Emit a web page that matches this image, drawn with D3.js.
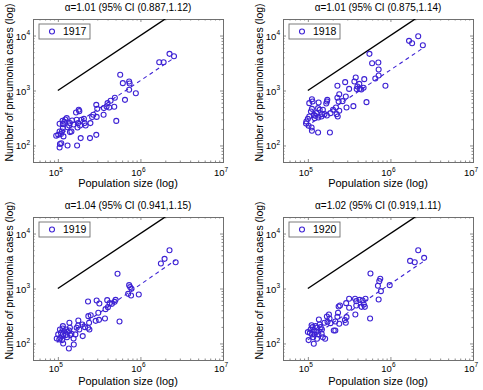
<!DOCTYPE html>
<html><head><meta charset="utf-8">
<script src="https://cdn.jsdelivr.net/npm/d3@7"></script>
<style>
body{margin:0;background:#fff;}
text{font-family:"Liberation Sans",Arial,Helvetica,sans-serif;fill:#000;}
</style></head>
<body><svg id="chart" width="483" height="390"></svg>
<script>
// ---------- data ----------
const years = ["1917","1918","1919","1920"];
const titles = ["α=1.01 (95% CI (0.887,1.12)","α=1.01 (95% CI (0.875,1.14)","α=1.04 (95% CI (0.941,1.15)","α=1.02 (95% CI (0.919,1.11)"];
const fitAlpha = [1.01, 1.01, 1.04, 1.02];
const fitAt100k = [148, 231, 108, 116];   // fitted cases at population 1e5
const refLineX = [1e5, 2e6];
const refLineY = [1e3, 2e4];
const xTicks = [1e5, 1e6, 1e7];
const yTicks = [1e2, 1e3, 1e4];
const xTickExp = ["5","6","7"];
const yTickExp = ["2","3","4"];

// [population, pneumonia cases]
const pts1917 = [[2.25e6,4640],[2.55e6,4210],[1.69e6,3270],[1.91e6,3270],[5.69e5,1930],[6.12e5,1360],[7.3e5,1460],[7.4e5,1340],[7.3e5,1030],[8.8e5,890],[6.5e5,676],[4.9e5,736],[5.1e5,280],[4.35e5,649],[4.0e5,590],[3.89e5,512],[4.19e5,490],[4.82e5,505],[3.61e5,478],[3.58e5,361],[2.92e5,548],[3.0e5,464],[2.69e5,361],[2.95e5,331],[2.92e5,156],[1.89e5,136],[2.45e5,136],[1.79e5,445],[1.82e5,421],[1.69e5,293],[1.76e5,255],[1.86e5,231],[1.73e5,212],[2.07e5,305],[2.48e5,255],[2.11e5,255],[1.66e5,398],[1.28e5,314],[1.49e5,285],[1.23e5,297],[1.14e5,281],[1.05e5,248],[1.15e5,244],[1.40e5,255],[1.37e5,231],[1.56e5,241],[1.46e5,180],[1.40e5,175],[1.15e5,207],[1.12e5,180],[1.09e5,161],[1.17e5,146],[9.55e4,150],[1.01e5,156],[1.06e5,106],[1.10e5,110],[1.05e5,92],[1.31e5,100],[1.71e5,100],[1.05e5,180],[1.31e5,215],[1.93e5,293],[2.17e5,231],[1.2e5,270],[2.6e5,330]];
const pts1918 = [[2.17e6,9720],[1.68e6,8000],[1.83e6,7260],[2.47e6,6670],[5.57e5,4640],[6.0e5,3140],[7.14e5,3230],[7.2e5,2410],[7.2e5,1870],[6.56e5,1650],[8.7e5,1220],[5.13e5,614],[4.73e5,1120],[3.8e5,1720],[3.66e5,1460],[4.2e5,1320],[3.98e5,1180],[4.24e5,1070],[4.44e5,1040],[3.9e5,1060],[4.82e5,1610],[2.83e5,1420],[3.16e5,1070],[2.88e5,778],[2.63e5,640],[2.94e5,491],[3.56e5,519],[2.28e5,1220],[2.4e5,857],[2.28e5,736],[2.36e5,631],[2.19e5,491],[2.23e5,371],[2.3e5,337],[2.4e5,427],[1.7e5,631],[1.72e5,676],[1.67e5,581],[2.02e5,445],[1.88e5,387],[1.52e5,445],[1.59e5,371],[1.39e5,445],[1.46e5,337],[1.35e5,605],[1.33e5,477],[1.27e5,387],[1.18e5,361],[1.12e5,695],[1.14e5,631],[1.04e5,589],[1.12e5,464],[1.09e5,415],[1.04e5,337],[1.0e5,305],[9.5e4,251],[1.02e5,228],[1.11e5,212],[1.12e5,185],[1.33e5,172],[1.85e5,172],[1.21e5,314],[1.34e5,323],[1.7e5,351],[9.6e4,273],[1.48e5,371],[1.23e5,346]];
const pts1919 = [[2.25e6,4980],[1.96e6,3460],[1.77e6,2850],[2.67e6,3010],[5.28e5,1850],[7.3e5,1150],[7.5e5,1060],[7.8e5,985],[7.1e5,800],[7.7e5,746],[9.55e5,778],[5.58e5,251],[5.0e5,622],[4.87e5,572],[4.52e5,526],[4.24e5,541],[3.96e5,614],[4.04e5,458],[3.78e5,421],[3.72e5,285],[2.95e5,605],[3.18e5,533],[2.32e5,581],[3.09e5,361],[3.15e5,269],[2.87e5,258],[2.5e5,327],[2.34e5,314],[2.39e5,238],[2.32e5,193],[2.41e5,180],[1.98e5,221],[2.13e5,198],[1.77e5,262],[1.76e5,212],[1.82e5,180],[1.69e5,193],[2.0e5,136],[1.55e5,123],[1.56e5,96],[1.36e5,81],[1.38e5,238],[1.40e5,193],[1.37e5,172],[1.31e5,163],[1.26e5,180],[1.15e5,207],[1.14e5,187],[1.19e5,167],[1.09e5,156],[1.15e5,146],[1.06e5,180],[1.01e5,146],[9.7e4,123],[1.07e5,127],[1.13e5,115],[1.16e5,100],[1.04e5,118],[1.46e5,150],[1.41e5,142],[1.63e5,146],[1.25e5,142],[1.29e5,130]];
const pts1920 = [[2.17e6,4980],[1.73e6,3180],[1.97e6,3010],[2.56e6,3610],[5.73e5,1870],[7.53e5,1500],[7.33e5,1360],[7.06e5,1120],[9.8e5,1150],[7.67e5,895],[7.2e5,631],[5.67e5,285],[4.99e5,649],[4.6e5,605],[4.24e5,622],[3.73e5,649],[3.86e5,589],[3.16e5,649],[2.91e5,541],[3.16e5,445],[4.77e5,512],[4.9e5,464],[3.86e5,491],[4.47e5,464],[3.76e5,337],[2.94e5,301],[2.88e5,238],[2.81e5,266],[2.36e5,471],[2.45e5,491],[2.32e5,361],[2.28e5,305],[2.15e5,251],[2.4e5,228],[2.15e5,172],[2.06e5,172],[1.8e5,337],[1.7e5,310],[1.83e5,285],[1.73e5,248],[1.88e5,234],[1.59e5,238],[1.36e5,273],[1.39e5,221],[1.43e5,198],[1.24e5,207],[1.29e5,193],[1.11e5,215],[1.14e5,198],[1.08e5,180],[1.18e5,172],[1.06e5,156],[1.0e5,161],[1.12e5,146],[1.16e5,130],[1.02e5,115],[1.18e5,99],[1.29e5,122],[1.47e5,150],[1.52e5,130],[1.62e5,122],[1.34e5,146],[1.48e5,180],[1.27e5,163],[1.21e5,146]];
const allPts = [pts1917, pts1918, pts1919, pts1920];

// ---------- layout ----------
const svg = d3.select("#chart");
const panelLeft = [33, 283, 33, 283];
const panelTop = [19, 19, 217, 217];
const W = 190, H = 143;
const blue = "#3d22d4";
const axisGray = "#6e6e6e";

function minorTicks(lo, hi) {
  const out = [];
  for (let e = Math.floor(Math.log10(lo)); e <= Math.ceil(Math.log10(hi)); e++) {
    for (let m = 2; m <= 9; m++) {
      const v = m * Math.pow(10, e);
      if (v > lo && v < hi) out.push(v);
    }
  }
  return out;
}

allPts.forEach((pts, i) => {
  const g = svg.append("g").attr("transform", `translate(${panelLeft[i]},${panelTop[i]})`);
  const x = d3.scaleLog().domain([5e4, 1e7]).range([0, W]);
  const y = d3.scaleLog().domain([50, 2e4]).range([H, 0]);

  g.append("rect").attr("width", W).attr("height", H).attr("fill", "#fff");

  const clipId = "clip" + i;
  g.append("clipPath").attr("id", clipId).append("rect").attr("width", W).attr("height", H);

  const mkAxis = (axis, scale, vals, size) => axis(scale).tickValues(vals).tickSize(size).tickFormat("");
  const axes = [
    [d3.axisBottom, x, `translate(0,${H})`, -3, -1.5, xTicks, minorTicks(5e4, 1e7)],
    [d3.axisTop, x, `translate(0,0)`, -3, -1.5, xTicks, minorTicks(5e4, 1e7)],
    [d3.axisLeft, y, `translate(0,0)`, -3, -1.5, yTicks, minorTicks(50, 2e4)],
    [d3.axisRight, y, `translate(${W},0)`, -3, -1.5, yTicks, minorTicks(50, 2e4)]
  ];
  axes.forEach(([ax, sc, tr, maj, min, mv, nv]) => {
    const a1 = g.append("g").attr("transform", tr).call(mkAxis(ax, sc, mv, maj));
    const a2 = g.append("g").attr("transform", tr).call(mkAxis(ax, sc, nv, min));
    [a1, a2].forEach(a => {
      a.select(".domain").attr("stroke", axisGray).attr("stroke-width", 0.9);
      a.selectAll(".tick line").attr("stroke", axisGray).attr("stroke-width", 0.8);
    });
  });

  const bottomRow = i >= 2;
  xTicks.forEach((v, k) => {
    const t = g.append("text").attr("x", x(v) - 2).attr("y", H + (bottomRow ? 11.5 : 14))
      .attr("text-anchor", "middle").attr("font-size", 9.5);
    t.append("tspan").text("10");
    t.append("tspan").attr("dy", -4.5).attr("font-size", 6.5).text(xTickExp[k]);
  });
  yTicks.forEach((v, k) => {
    const t = g.append("text").attr("x", -3).attr("y", y(v) + 4).attr("text-anchor", "end").attr("font-size", 9.5);
    t.append("tspan").text("10");
    t.append("tspan").attr("dy", -4.5).attr("font-size", 6.5).text(yTickExp[k]);
  });

  const plot = g.append("g").attr("clip-path", `url(#${clipId})`);

  plot.append("path")
    .datum(refLineX.map((v, k) => [v, refLineY[k]]))
    .attr("d", d3.line().x(d => x(d[0])).y(d => y(d[1])))
    .attr("fill", "none").attr("stroke", "#000").attr("stroke-width", 1.5);

  const xs = pts.map(d => d[0]);
  const fx = [d3.min(xs), d3.max(xs)];
  plot.append("path")
    .datum(fx.map(v => [v, fitAt100k[i] * Math.pow(v / 1e5, fitAlpha[i])]))
    .attr("d", d3.line().x(d => x(d[0])).y(d => y(d[1])))
    .attr("fill", "none").attr("stroke", blue).attr("stroke-width", 1.1)
    .attr("stroke-dasharray", "4,3.5");

  plot.selectAll("circle.pt").data(pts).join("circle").attr("class", "pt")
    .attr("cx", d => x(d[0])).attr("cy", d => y(d[1])).attr("r", 2.5)
    .attr("fill", "none").attr("stroke", blue).attr("stroke-width", 1.1);

  const lg = g.append("g").attr("transform", "translate(6,5)");
  lg.append("rect").attr("width", 51).attr("height", 15).attr("fill", "#fff")
    .attr("stroke", axisGray).attr("stroke-width", 0.9);
  lg.append("circle").attr("cx", 13).attr("cy", 7.5).attr("r", 2.5)
    .attr("fill", "none").attr("stroke", blue).attr("stroke-width", 1.1);
  lg.append("text").attr("x", 24).attr("y", 11.3).attr("font-size", 10.5).text(years[i]);

  g.append("text").attr("x", W / 2).attr("y", -8).attr("text-anchor", "middle")
    .attr("font-size", 10).text(titles[i]);

  g.append("text").attr("x", W / 2).attr("y", H + (bottomRow ? 24.5 : 25)).attr("text-anchor", "middle")
    .attr("font-size", 11).text("Population size (log)");
  g.append("text").attr("transform", `translate(-20,${H / 2 - 8}) rotate(-90)`)
    .attr("text-anchor", "middle").attr("font-size", 10.5).text("Number of pneumonia cases (log)");
});
</script></body></html>
